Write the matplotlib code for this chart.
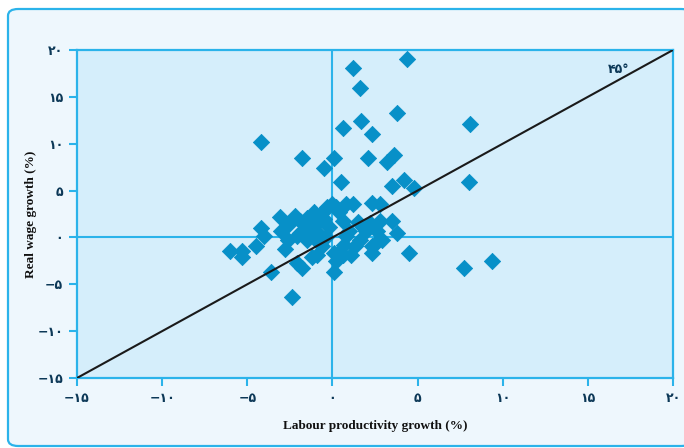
import matplotlib

matplotlib.use("Agg")
import matplotlib.pyplot as plt
from matplotlib.patches import FancyBboxPatch

# Labour productivity growth (%) vs real wage growth (%), one diamond per country
prod_growth = [
    1.2, 4.4, 1.6, 3.8, 8.1, -4.2, 0.6, 1.7, 2.3, -1.8,
    0.1, -0.5, 2.1, 3.2, 3.6, 0.5, 4.2, 3.5, 4.8, 8.0,
    7.7, 9.4, 4.5, -2.4, 0.1, -3.6, -6.0, -5.3, -5.3, -4.5,
    -4.2, -4.0, -3.1, -3.0, -2.6, -2.6, -1.9, -1.9, -2.1, -1.8,
    -2.1, -1.5, -1.1, -1.3, -0.9, -0.8, -1.1, -1.2, -0.9, -0.5,
    -0.3, -0.2, -0.4, 0.0, 0.2, 0.1, 0.2, 0.6, 0.8, 1.2,
    0.8, 1.1, 0.6, 0.4, 1.5, 1.8, 2.0, 2.3, 2.3, 2.6,
    2.9, 2.3, 2.8, 2.8, 3.5, 3.8, 2.2, 2.6, -1.6, -2.2,
    -0.6, 0.4, 1.0, -2.8, -0.6, 1.3, -1.5, 0.7, 1.6,
]
wage_growth = [
    18.1, 19.0, 15.9, 13.3, 12.1, 10.2, 11.7, 12.4, 11.0, 8.5,
    8.5, 7.4, 8.5, 8.0, 8.8, 5.9, 6.1, 5.5, 5.3, 5.9,
    -3.3, -2.5, -1.7, -6.4, -3.7, -3.7, -1.4, -1.4, -2.1, -0.9,
    1.0, 0.2, 2.2, 0.7, -0.3, 1.3, 1.8, 0.5, 0.1, -3.3,
    -2.7, 2.1, 2.7, 1.1, 1.5, 0.4, -0.1, -2.1, -1.9, 2.0,
    3.2, 1.1, 0.0, 3.6, 3.2, -1.7, -2.5, 1.8, 3.6, 3.6,
    0.2, -1.9, -1.9, -1.6, 1.6, 1.1, 0.7, -1.7, -0.9, -0.5,
    -0.3, 3.7, 3.6, 1.8, 1.8, 0.5, 1.5, 0.7, 1.3, 2.3,
    2.6, 2.7, 0.7, -1.2, -0.9, -0.9, -0.3, -0.8, -0.3,
]

TICKS = [-15, -10, -5, 0, 5, 10, 15, 20]
FA_DIGITS = str.maketrans("0123456789", "۰۱۲۳۴۵۶۷۸۹")
TICK_LABELS = [("−" if t < 0 else "") + str(abs(t)).translate(FA_DIGITS) for t in TICKS]

CYAN = "#2bb3ea"
PANEL = "#d5eefb"
FRAME = "#eef7fd"
MARKER = "#0790c8"
NAVY = "#0c3857"

fig = plt.figure(figsize=(6.84, 4.48), dpi=100)
fig.patch.set_facecolor("white")

# rounded outer frame, runs off the right/bottom edge like the scan
frame = FancyBboxPatch((8 / 684, 2 / 448), 0.999, 437 / 448,
                       boxstyle="round,pad=0,rounding_size=0.015",
                       transform=fig.transFigure, facecolor=FRAME,
                       edgecolor=CYAN, linewidth=1.6, zorder=-10)
fig.add_artist(frame)

ax = fig.add_axes([77 / 684, 70 / 448, 596 / 684, 328 / 448])
ax.set_facecolor(PANEL)
ax.set_xlim(-15, 20)
ax.set_ylim(-15, 20)

ax.axvline(0, color=CYAN, lw=1.5, zorder=1)
ax.axhline(0, color=CYAN, lw=1.5, zorder=1)
ax.scatter(prod_growth, wage_growth, marker="D", s=68, color=MARKER,
           edgecolors=MARKER, linewidths=0.6, zorder=2)
ax.plot([-15, 20], [-15, 20], color="#1a1a1a", lw=1.5, zorder=3)
ax.text(16.2, 17.9, "۴۵°", color=NAVY, fontsize=9, fontweight="bold",
        ha="left", va="center", family="DejaVu Sans")

for side in ax.spines.values():
    side.set_color(CYAN)
    side.set_linewidth(1.6)

ax.set_xticks(TICKS, TICK_LABELS)
ax.set_yticks(TICKS, TICK_LABELS)
ax.tick_params(direction="out", length=6, width=1.5, color=CYAN,
               labelcolor=NAVY, labelsize=9, pad=4)
for lab in ax.get_xticklabels() + ax.get_yticklabels():
    lab.set_fontweight("bold")

ax.set_xlabel("Labour productivity growth (%)", family="Liberation Serif",
              fontweight="bold", fontsize=9.5, color="#111111", labelpad=11)
ax.set_ylabel("Real wage growth (%)", family="Liberation Serif",
              fontweight="bold", fontsize=9.5, color="#111111", labelpad=0)

fig.savefig("out.png", dpi=100)
